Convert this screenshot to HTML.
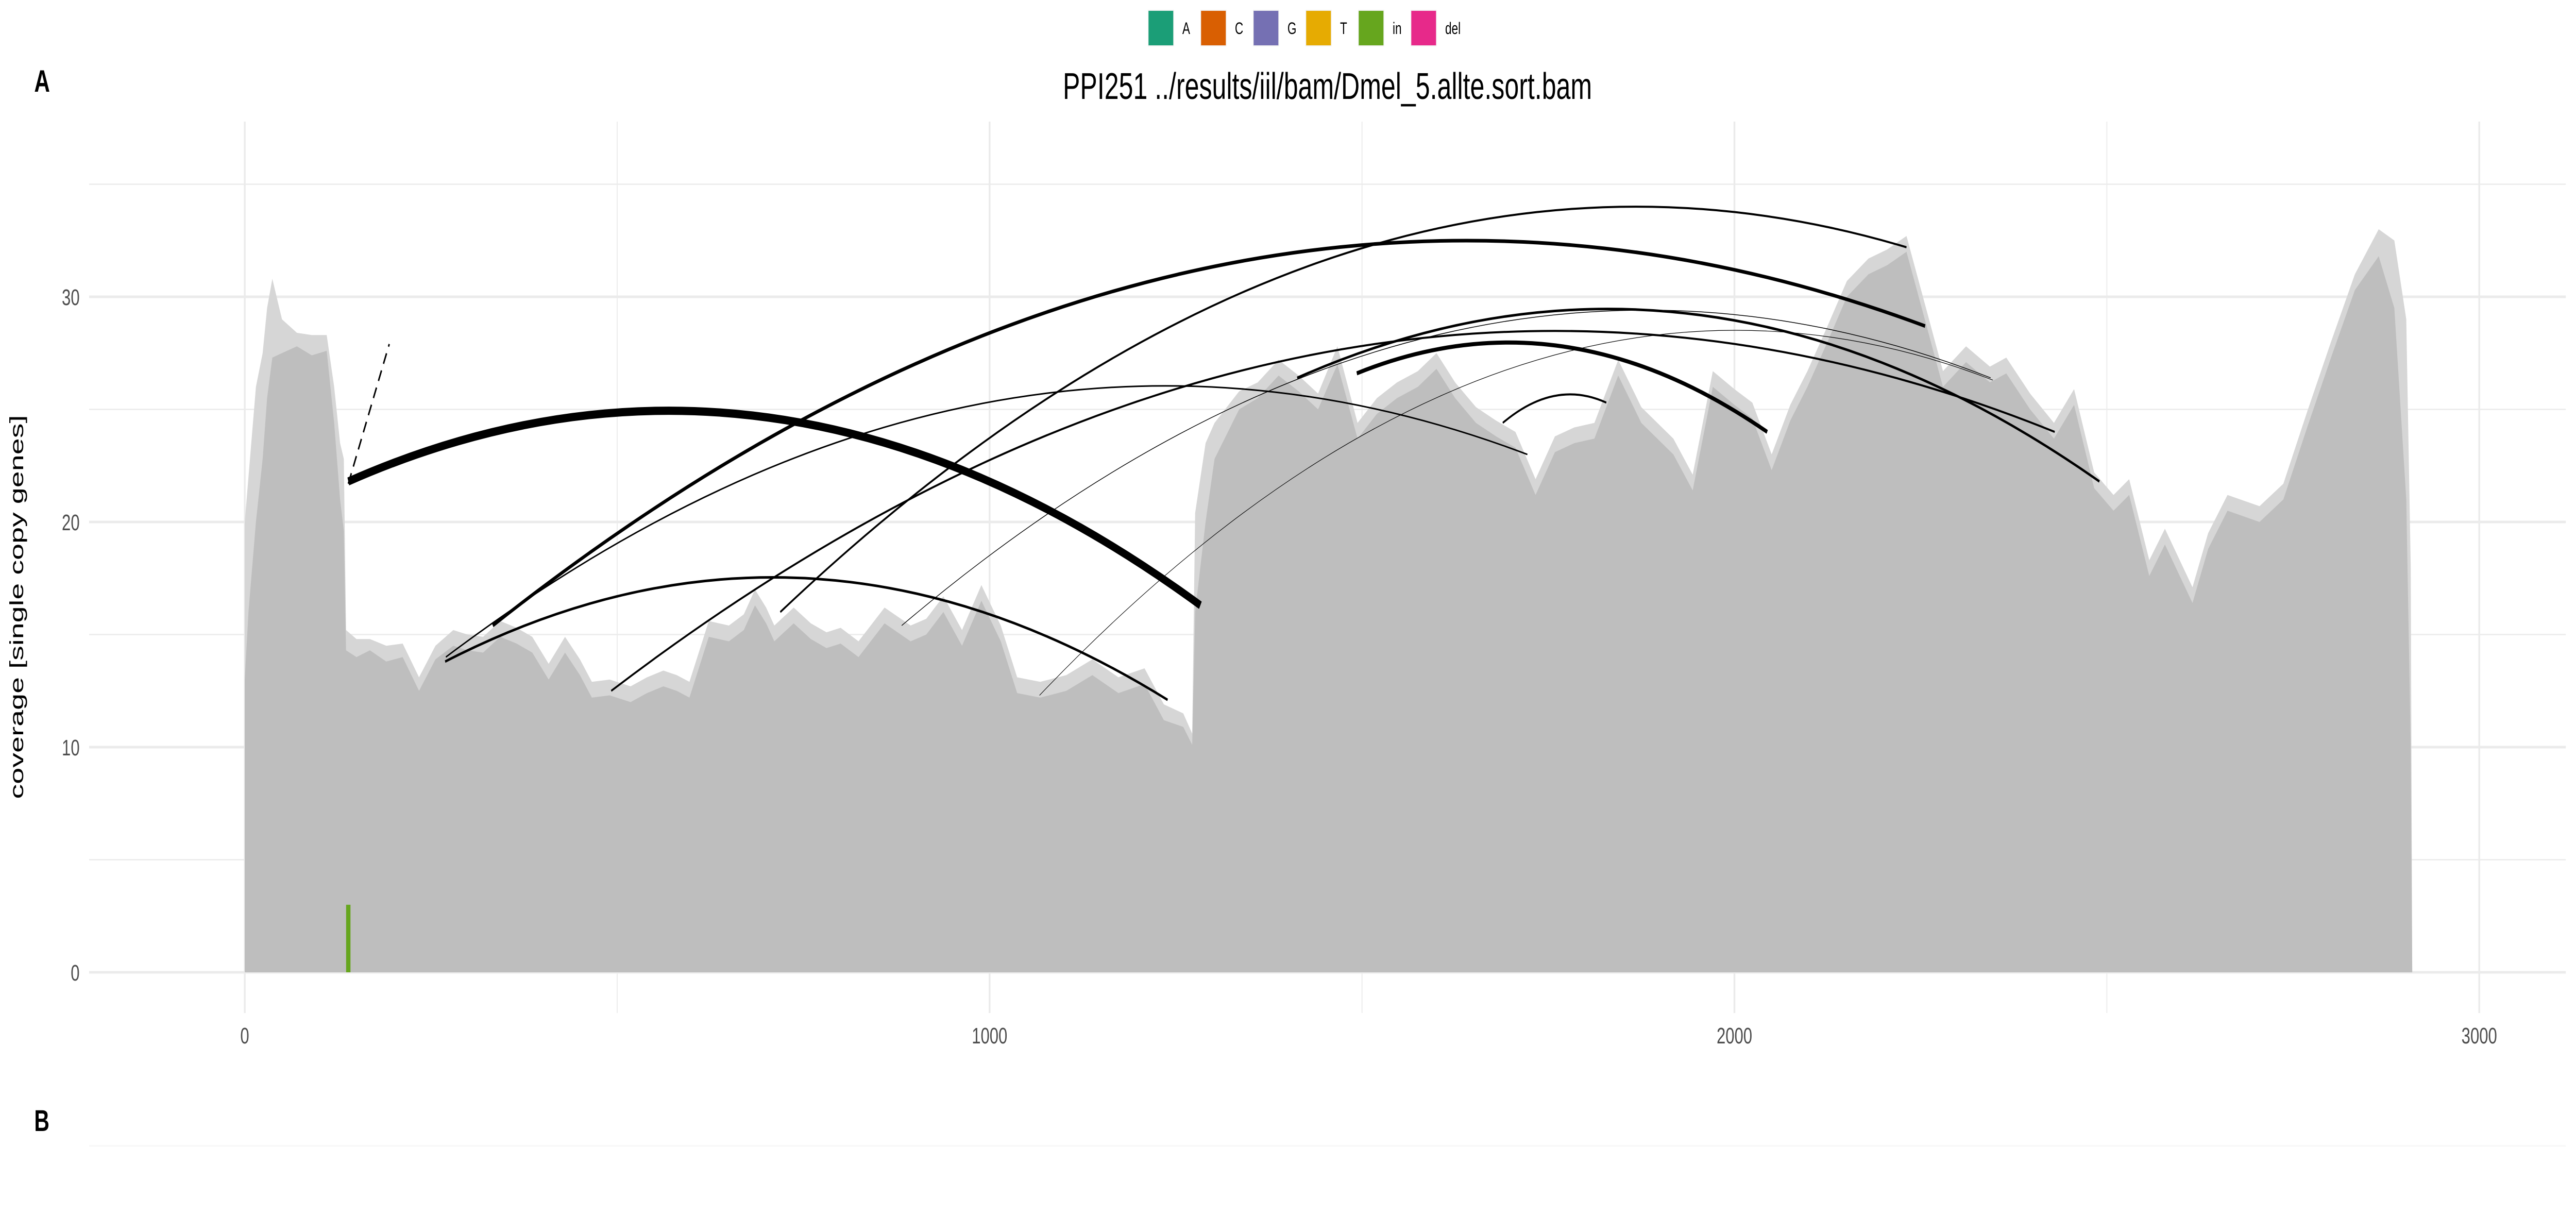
<!DOCTYPE html>
<html><head><meta charset="utf-8"><style>
html,body{margin:0;padding:0;background:#fff;width:100%;height:100%;overflow:hidden;}
svg{display:block;font-family:"Liberation Sans",sans-serif;width:100vw;height:100vh;}
</style></head><body>
<svg id="chart" viewBox="0 0 7083 2358" preserveAspectRatio="none" xmlns="http://www.w3.org/2000/svg">
<rect width="7083" height="2358" fill="#fff"/>
<g id="legend"></g>
<text x="94" y="178" font-size="60" font-weight="bold">A</text>
<text x="94" y="2195" font-size="58" font-weight="bold">B</text>
<text x="3650" y="192" font-size="72" text-anchor="middle" textLength="1455" lengthAdjust="spacingAndGlyphs">PPI251 ../results/iil/bam/Dmel_5.allte.sort.bam</text>
<text transform="translate(64,1178) rotate(-90)" font-size="52" text-anchor="middle" textLength="745" lengthAdjust="spacingAndGlyphs">coverage [single copy genes]</text>
<g id="grid"></g>
<g id="area"></g>
<g id="arcs"></g>
<g id="axes"></g>
<line x1="245" x2="7055" y1="2224" y2="2224" stroke="#f7f7f7" stroke-width="3"/>
</svg>
<script>
const legendLabels = ["A","C","G","T","in","del"];
const legendColors = ["#1b9e77","#d95f02","#7570b3","#e6ab02","#66a61e","#e7298a"];
const xTicks = [0,1000,2000,3000];
const xMinor = [500,1500,2500];
const yTicks = [0,10,20,30];
const yMinor = [5,15,25,35];
const covPos = [0,5,15,24,30,37,50,70,90,110,120,128,133,136,150,168,190,212,234,256,280,299,320,343,365,386,408,430,450,466,490,518,540,562,580,597,623,650,670,685,700,711,737,760,781,800,824,859,894,915,938,963,989,1015,1037,1068,1103,1138,1173,1208,1234,1260,1272,1276,1290,1302,1335,1360,1388,1415,1441,1467,1494,1520,1547,1575,1600,1625,1653,1680,1706,1733,1759,1785,1812,1844,1875,1918,1944,1971,2000,2024,2050,2075,2098,2125,2151,2180,2205,2231,2258,2280,2311,2343,2365,2397,2429,2456,2483,2509,2530,2557,2578,2615,2636,2662,2705,2737,2769,2801,2833,2865,2886,2902,2908,2910];
const covDark = [13,16,20,22.8,25.5,27.3,27.5,27.8,27.4,27.6,24.4,21,19.6,14.3,14,14.3,13.8,14,12.5,13.9,14.5,14.3,14.2,14.9,14.6,14.2,13,14.2,13.2,12.2,12.3,12,12.4,12.7,12.5,12.2,14.9,14.7,15.2,16.3,15.5,14.7,15.5,14.8,14.4,14.6,14,15.5,14.7,15,16,14.5,16.5,14.7,12.4,12.2,12.5,13.2,12.4,12.8,11.2,10.9,10.1,16,20,22.8,25,25.5,26.5,25.8,25,27,23.7,24.8,25.5,26,26.8,25.5,24.4,23.8,23.3,21.2,23.1,23.5,23.7,26.5,24.4,23,21.4,26,25.2,24.6,22.3,24.5,26,28,30,31,31.4,32,28.7,26,27.1,26.2,26.6,25,23.7,25.2,21.5,20.5,21.2,17.6,19,16.4,18.8,20.5,20,21,24.2,27.3,30.3,31.8,29.5,21,10,0];
const covLight = [20,22,26,27.5,29.5,30.8,29,28.4,28.3,28.3,26,23.5,22.8,15.2,14.8,14.8,14.5,14.6,13.1,14.5,15.2,15,14.9,15.6,15.3,14.9,13.7,14.9,13.9,12.9,13,12.7,13.1,13.4,13.2,12.9,15.6,15.4,15.9,17,16.2,15.4,16.2,15.5,15.1,15.3,14.7,16.2,15.4,15.7,16.7,15.2,17.2,15.4,13.1,12.9,13.2,13.9,13.1,13.5,11.9,11.5,10.6,20.4,23.5,24.4,25.8,26.2,27.2,26.5,25.7,27.8,24.4,25.5,26.2,26.7,27.5,26.2,25.1,24.5,24,21.9,23.8,24.2,24.4,27.2,25.1,23.7,22.1,26.7,25.9,25.3,23,25.2,26.7,28.7,30.7,31.7,32.1,32.7,29.4,26.7,27.8,26.9,27.3,25.7,24.4,25.9,22.2,21.2,21.9,18.3,19.7,17.1,19.5,21.2,20.7,21.7,24.9,28,31,33,32.5,29,18,0];
const arcX1 = [139,333,719,269,270,492,1413,1493,1689,882,1067];
const arcY1 = [21.8,15.4,16,13.8,14,12.5,26.4,26.6,24.4,15.4,12.3];
const arcX2 = [1283,2256,2231,1239,1722,2430,2490,2044,1828,2344,2347];
const arcY2 = [16.3,28.7,32.2,12.1,23,24,21.8,24,25.3,26.4,26.3];
const arcMid = [24.6,31.3,31.9,17.5,25.3,27.6,29.2,27.8,25.6,28.4,26.9];
const arcW = [16,7,4,5,3,4,5,8,4,1.5,1.2];
const dashX = [139,194];
const dashY = [21.7,27.9];
const snpPos = [139];
const snpVal = [3.0];

const NS="http://www.w3.org/2000/svg";
const X0=673, XK=2.048, Y0=1887, YK=43.7;
const xs=v=>X0+XK*v, ys=v=>Y0-YK*v;
function mk(tag,attrs,parent){const e=document.createElementNS(NS,tag);for(const k in attrs)e.setAttribute(k,attrs[k]);parent.appendChild(e);return e;}

const lg=document.getElementById('legend');
legendLabels.forEach((l,i)=>{
  const x=3158+i*144.5;
  const r=mk('rect',{x:x-2,y:19,width:72,height:71,fill:'#f2f2f2'},lg);
  
  
  const k=mk('rect',{x:x,y:21,width:68,height:67,fill:legendColors[i]},lg);
  
  
  const t=mk('text',{x:x+93,y:66,'font-size':32},lg);
  t.textContent=l;
  
  
});

const g=document.getElementById('grid');
yMinor.forEach(v=>{const e=mk('line',{x1:245,x2:7055,y1:ys(v),y2:ys(v),stroke:'#ebebeb','stroke-width':2.5},g);
  
  });
xMinor.forEach(v=>{const e=mk('line',{x1:xs(v),x2:xs(v),y1:236,y2:1966,stroke:'#ebebeb','stroke-width':2.5},g);
  
  });
yTicks.forEach(v=>{const e=mk('line',{x1:245,x2:7055,y1:ys(v),y2:ys(v),stroke:'#ebebeb','stroke-width':5},g);
  
  });
xTicks.forEach(v=>{const e=mk('line',{x1:xs(v),x2:xs(v),y1:236,y2:1966,stroke:'#ebebeb','stroke-width':5},g);
  
  });

const ar=document.getElementById('area');
function areaPath(vals){let d='M'+xs(covPos[0])+','+ys(0);covPos.forEach((p,i)=>{d+=' L'+xs(p).toFixed(1)+','+ys(vals[i]).toFixed(1);});d+=' L'+xs(covPos[covPos.length-1])+','+ys(0)+' Z';return d;}
const pl=mk('path',{d:areaPath(covLight),fill:'#d6d6d6'},ar);


const pd=mk('path',{d:areaPath(covDark),fill:'#bebebe'},ar);


snpPos.forEach((p,i)=>{const e=mk('rect',{x:xs(p)-6,y:ys(snpVal[i]),width:12,height:ys(0)-ys(snpVal[i]),fill:'#66a61e'},ar);
  
  });

const ac=document.getElementById('arcs');
arcX1.forEach((x1,i)=>{
  const ax=xs(x1),ay=ys(arcY1[i]),bx=xs(arcX2[i]),by=ys(arcY2[i]);
  const mx=(ax+bx)/2, my=ys(arcMid[i]);
  const cx=mx, cy=2*my-(ay+by)/2;
  const e=mk('path',{d:`M${ax},${ay} Q${cx},${cy} ${bx},${by}`,fill:'none',stroke:'#000','stroke-width':arcW[i]},ac);
  
  
});
const dl=mk('line',{x1:xs(dashX[0]),y1:ys(dashY[0]),x2:xs(dashX[1]),y2:ys(dashY[1]),stroke:'#000','stroke-width':4,'stroke-dasharray':'22,14'},ac);



const ax=document.getElementById('axes');
yTicks.forEach(v=>{const t=mk('text',{x:219,y:ys(v)+16,'font-size':44,'text-anchor':'end',fill:'#4d4d4d'},ax);t.textContent=v;
  
  });
xTicks.forEach(v=>{const t=mk('text',{x:xs(v),y:2025,'font-size':44,'text-anchor':'middle',fill:'#4d4d4d'},ax);t.textContent=v;
  
  });
</script>
</body></html>
